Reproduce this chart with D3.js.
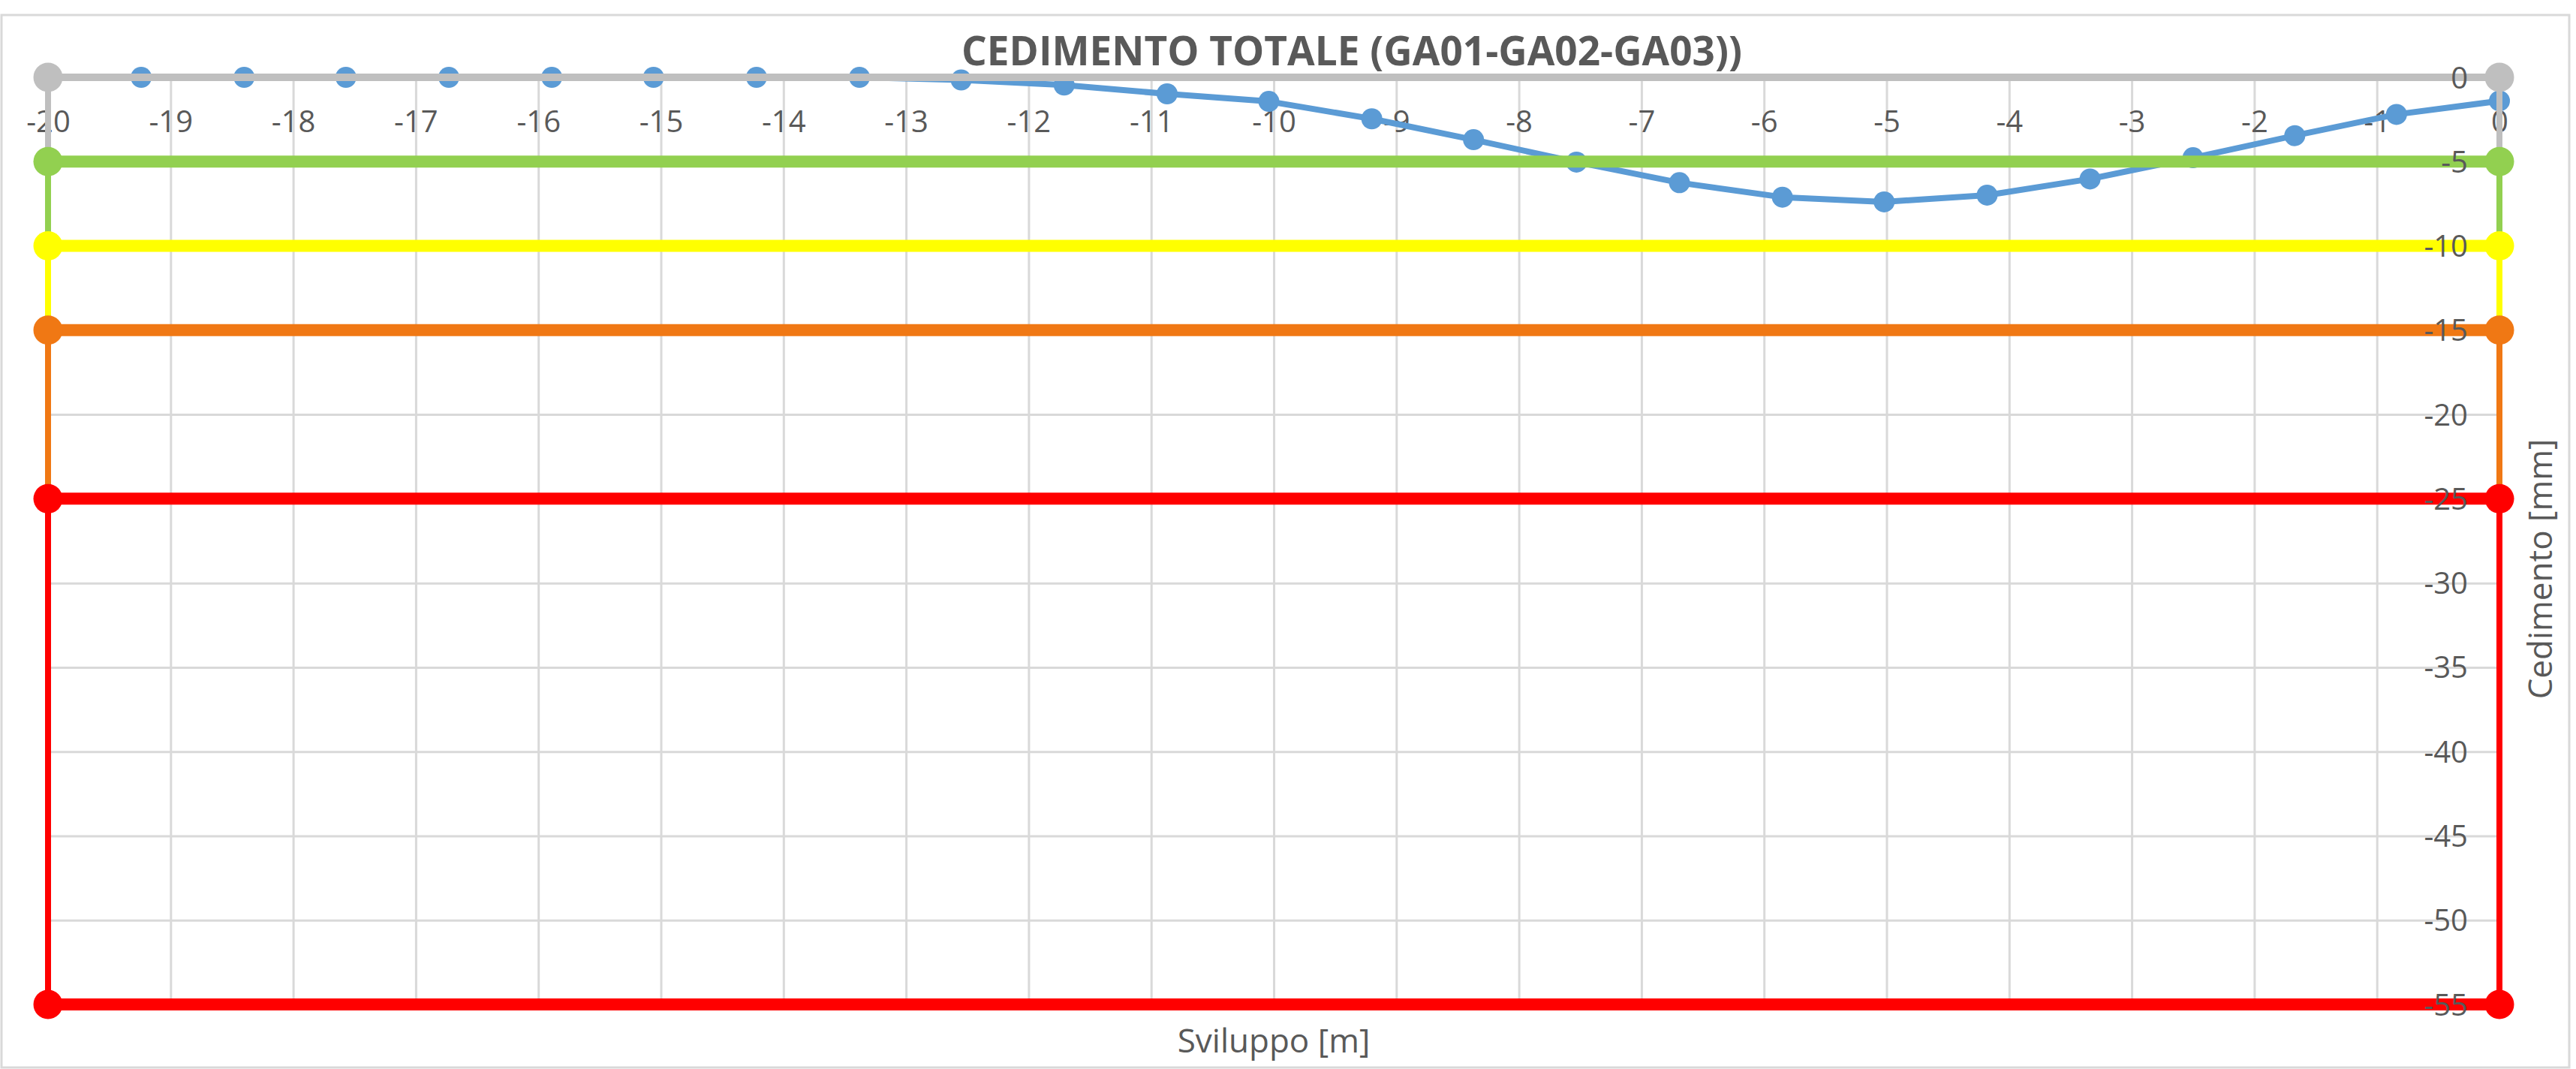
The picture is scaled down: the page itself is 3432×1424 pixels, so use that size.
<!DOCTYPE html>
<html>
<head>
<meta charset="utf-8">
<script src="https://cdn.jsdelivr.net/npm/d3@7"></script>
<style>
  html, body { margin: 0; padding: 0; background: #ffffff; }
  svg { display: block; }
  text { font-family: "Open Sans", "Noto Sans", sans-serif; fill: #595959; }
</style>
</head>
<body>
<svg id="chart" width="3432" height="1424"></svg>
<script>
// ---------- DATA ----------
const title = "CEDIMENTO TOTALE (GA01-GA02-GA03))";
const xAxisTitle = "Sviluppo [m]";
const yAxisTitle = "Cedimento [mm]";

const xTickValues = [-20, -19, -18, -17, -16, -15, -14, -13, -12, -11, -10, -9, -8, -7, -6, -5, -4, -3, -2, -1, 0];
const yTickValues = [0, -5, -10, -15, -20, -25, -30, -35, -40, -45, -50, -55];

// measured settlement profile
const sviluppo = [-19.24, -18.40, -17.57, -16.73, -15.89, -15.06, -14.22, -13.38,
                  -12.55, -11.71, -10.87, -10.04, -9.20, -8.37, -7.53, -6.69,
                  -5.85, -5.02, -4.18, -3.34, -2.50, -1.67, -0.84, 0.00];
const cedimento = [0, 0, 0, 0, 0, 0, 0, 0,
                   -0.16, -0.46, -0.98, -1.43, -2.46, -3.70, -5.03, -6.25,
                   -7.11, -7.39, -6.99, -6.03, -4.77, -3.46, -2.20, -1.40];

// threshold series: each has two points (start, end) and a minus error bar
const thresholdStart = [-20, -20, -20, -20, -20, -20];
const thresholdEnd   = [0, 0, 0, 0, 0, 0];
const thresholdLevel = [0, -5, -10, -15, -25, -55];
const thresholdErrMinus = [5, 5, 5, 10, 30, 0];
const thresholdColor = ["#bfbfbf", "#92d050", "#ffff00", "#f07814", "#ff0000", "#ff0000"];

// ---------- LAYOUT ----------
const svg = d3.select("#chart");
const plot = { left: 64, right: 3330, top: 103, bottom: 1338 };

const x = d3.scaleLinear().domain([-20, 0]).range([plot.left, plot.right]);
const y = d3.scaleLinear().domain([-55, 0]).range([plot.bottom, plot.top]);
const fmt = d => String(d);   // plain hyphen-minus, as in the original

// chart frame
svg.append("rect")
  .attr("x", 2).attr("y", 20).attr("width", 3421).attr("height", 1402)
  .attr("fill", "#ffffff").attr("stroke", "#d9d9d9").attr("stroke-width", 3);

// gridlines
const gridV = d3.axisBottom(x).tickValues(xTickValues).tickSize(-(plot.bottom - plot.top)).tickFormat("");
const gv = svg.append("g").attr("transform", `translate(0,${plot.bottom})`).call(gridV);
gv.select(".domain").remove();
gv.selectAll("line").attr("stroke", "#d9d9d9").attr("stroke-width", 3);

const gridH = d3.axisLeft(y).tickValues(yTickValues).tickSize(-(plot.right - plot.left)).tickFormat("");
const gh = svg.append("g").attr("transform", `translate(${plot.left},0)`).call(gridH);
gh.select(".domain").remove();
gh.selectAll("line").attr("stroke", "#d9d9d9").attr("stroke-width", 3);

// x tick labels (placed just under the zero line)
const xAx = d3.axisBottom(x).tickValues(xTickValues).tickSize(0).tickPadding(0).tickFormat(fmt);
const xg = svg.append("g").attr("transform", `translate(0,${y(0) + 73})`).call(xAx);
xg.select(".domain").remove();
xg.selectAll("text")
  .attr("dy", 0).attr("y", 0)
  .style("font-size", "40px")
  .attr("fill", "#595959")
  .style("font-family", "'Open Sans', 'Noto Sans', sans-serif");

// ---------- SERIES ----------
const pts = sviluppo.map((d, i) => [d, cedimento[i]]);
const line = d3.line().x(d => x(d[0])).y(d => y(d[1]));

svg.append("path")
  .datum(pts)
  .attr("d", line)
  .attr("fill", "none")
  .attr("stroke", "#5b9bd5")
  .attr("stroke-width", 8)
  .attr("stroke-linejoin", "round");

svg.append("g").selectAll("circle")
  .data(pts)
  .join("circle")
  .attr("cx", d => x(d[0]))
  .attr("cy", d => y(d[1]))
  .attr("r", 14)
  .attr("fill", "#5b9bd5");

// thresholds
thresholdLevel.forEach((lvl, i) => {
  const g = svg.append("g");
  const ends = [thresholdStart[i], thresholdEnd[i]];
  const err = thresholdErrMinus[i];
  const col = thresholdColor[i];
  if (err > 0) {
    g.selectAll("line.err")
      .data(ends)
      .join("line")
      .attr("class", "err")
      .attr("x1", d => x(d)).attr("x2", d => x(d))
      .attr("y1", y(lvl)).attr("y2", y(lvl - err))
      .attr("stroke", col)
      .attr("stroke-width", 8);
  }
  g.append("path")
    .datum(ends.map(e => [e, lvl]))
    .attr("d", line)
    .attr("fill", "none")
    .attr("stroke", col)
    .attr("stroke-width", i === 0 ? 10 : 16);
  g.selectAll("circle")
    .data(ends)
    .join("circle")
    .attr("cx", d => x(d))
    .attr("cy", y(lvl))
    .attr("r", 19.5)
    .attr("fill", col);
});

// y tick labels (left of the right-hand axis)
const yAx = d3.axisLeft(y).tickValues(yTickValues).tickSize(0).tickPadding(0).tickFormat(fmt);
const yg = svg.append("g").attr("transform", `translate(${x(0) - 42},0)`).call(yAx);
yg.select(".domain").remove();
yg.selectAll("text")
  .attr("x", 0)
  .attr("dy", "0.35em")
  .attr("text-anchor", "end")
  .style("font-size", "40px")
  .attr("fill", "#595959")
  .style("font-family", "'Open Sans', 'Noto Sans', sans-serif");

// ---------- TITLES ----------
svg.append("text")
  .attr("x", 1801).attr("y", 87)
  .attr("text-anchor", "middle")
  .attr("textLength", 1040)
  .attr("lengthAdjust", "spacingAndGlyphs")
  .style("font-size", "54px")
  .style("font-weight", "bold")
  .text(title);

svg.append("text")
  .attr("x", (plot.left + plot.right) / 2).attr("y", 1402)
  .attr("text-anchor", "middle")
  .style("font-size", "44px")
  .text(xAxisTitle);

svg.append("text")
  .attr("transform", `translate(3400,758) rotate(-90)`)
  .attr("text-anchor", "middle")
  .style("font-size", "44px")
  .text(yAxisTitle);
</script>
</body>
</html>
